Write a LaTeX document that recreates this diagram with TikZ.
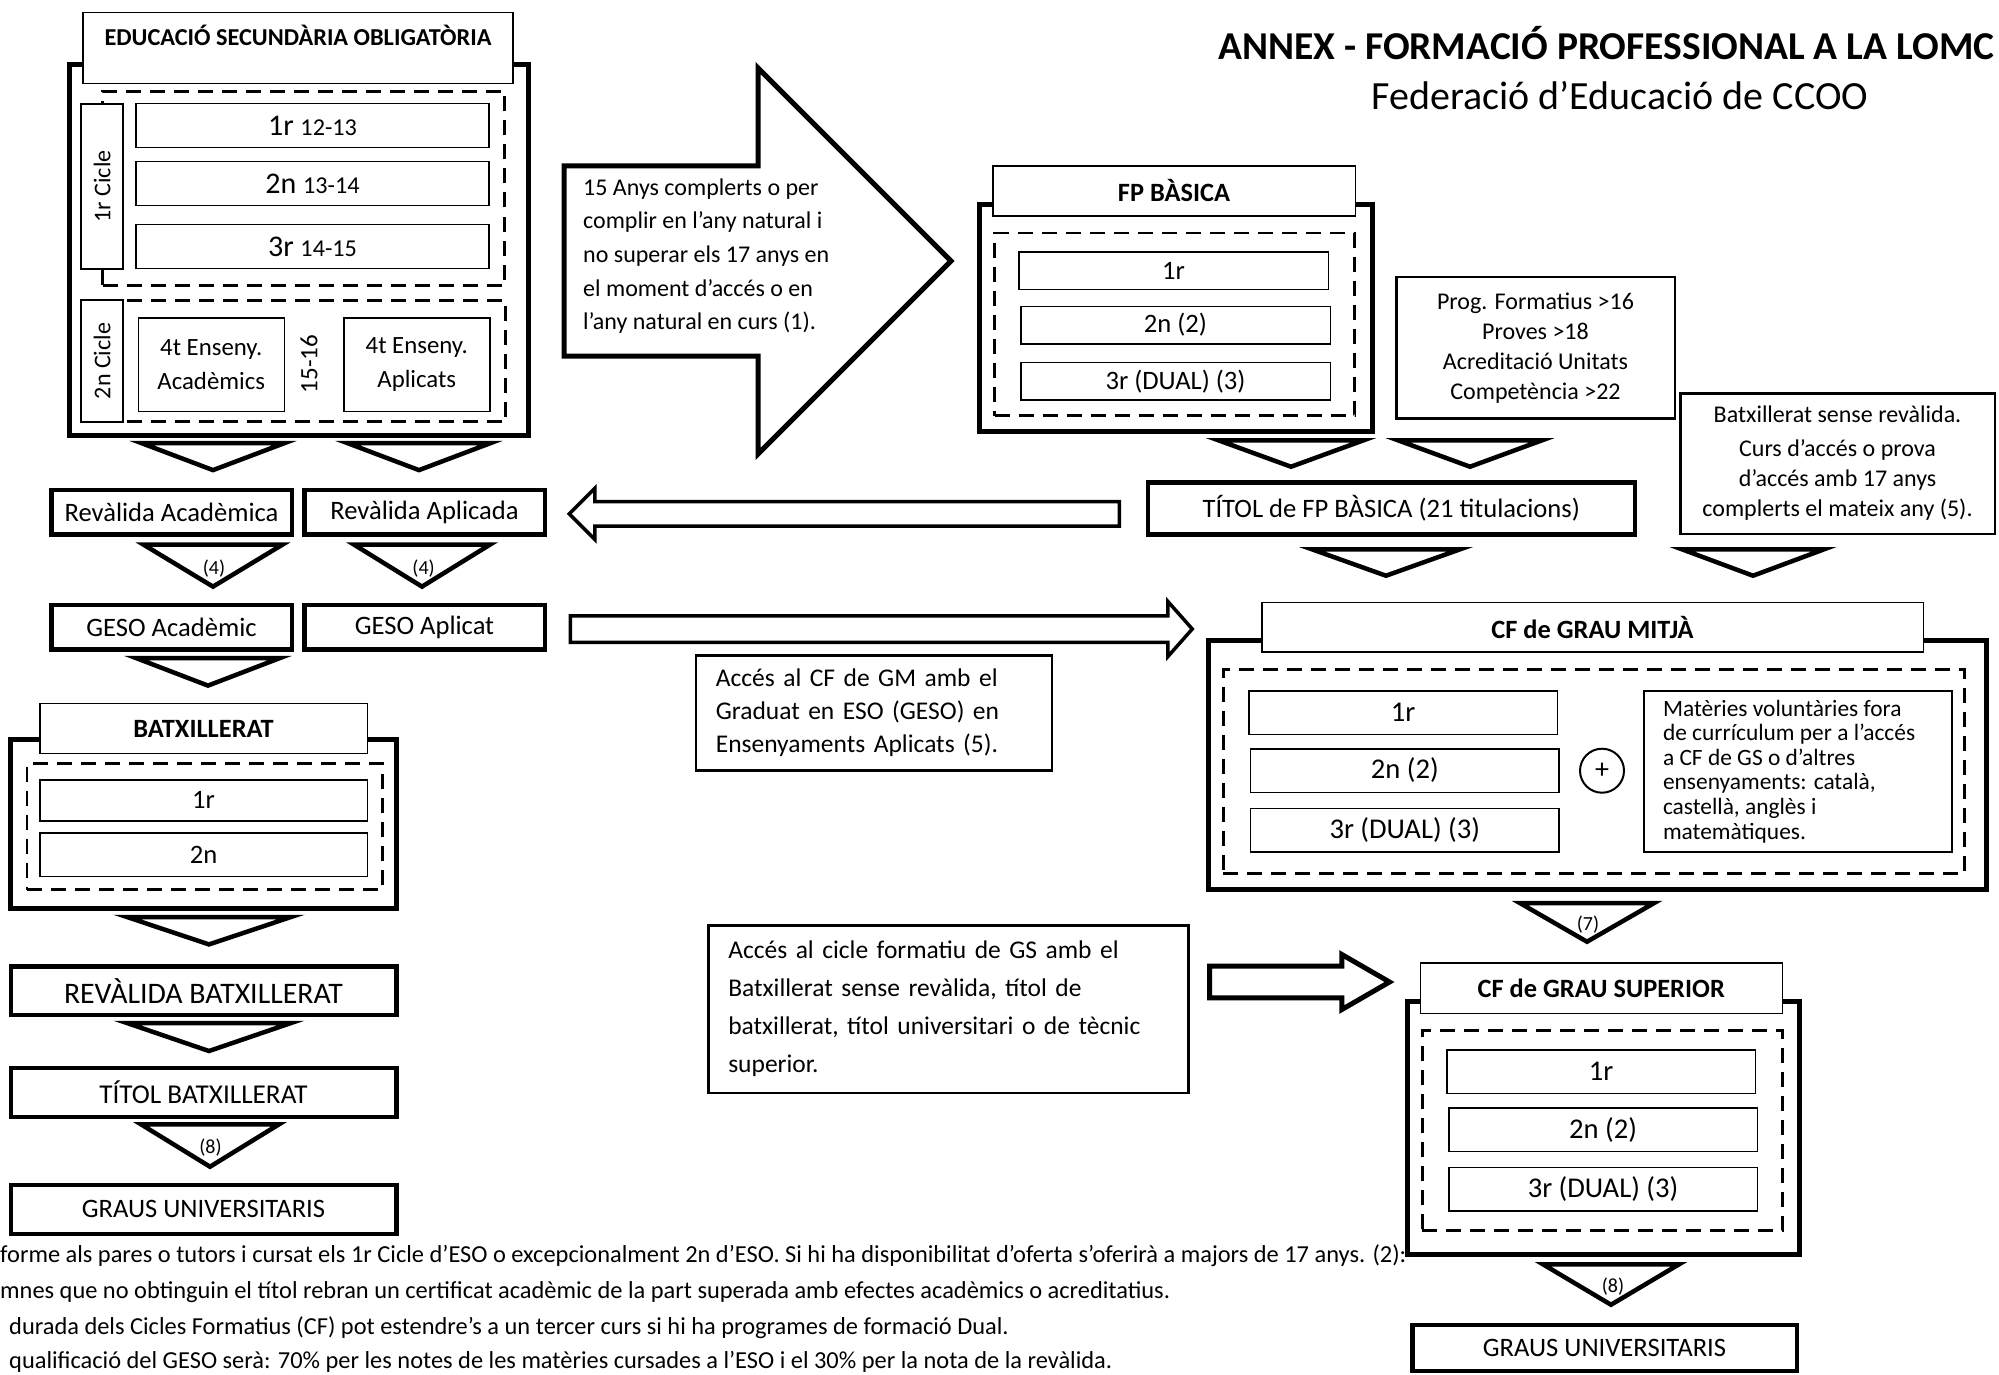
\documentclass[tikz,border=0pt]{standalone}
\usepackage{fontspec}
\setmainfont{Carlito}
\usepackage{tikz}
\usetikzlibrary{positioning,shapes.geometric,shapes.arrows}
\tikzset{
  outerBox/.style={
    rectangle,
    draw=black,
    line width=5pt,
    inner sep=0pt
  },
  dashBox/.style={
    rectangle,
    draw=black,
    line width=2.8pt,
    dash pattern=on 15pt off 9pt,
    inner sep=0pt
  },
  headBox/.style={
    rectangle,
    draw=black,
    fill=white,
    line width=1.5pt,
    inner sep=0pt,
    align=center,
    font=\bfseries\fontsize{26.4}{30}\selectfont
  },
  yearBox/.style={
    rectangle,
    draw=black,
    fill=white,
    line width=1.5pt,
    inner sep=0pt,
    align=center,
    font=\fontsize{26.6}{32}\selectfont
  },
  stepBox/.style={
    rectangle,
    draw=black,
    fill=white,
    line width=4.5pt,
    inner sep=0pt,
    minimum width=240.5pt,
    minimum height=44.5pt,
    align=center,
    font=\fontsize{26.6}{32}\selectfont
  },
  noteBox/.style={
    rectangle,
    draw=black,
    fill=white,
    line width=2.5pt,
    inner sep=0pt,
    align=center,
    font=\fontsize{24}{30}\selectfont
  },
  downTri/.style={
    isosceles triangle,
    isosceles triangle stretches,
    shape border rotate=-90,
    draw=black,
    fill=white,
    line width=4.5pt,
    inner sep=0pt,
    anchor=apex,
    minimum width=143pt,
    minimum height=27pt
  },
  triLabel/.style={
    inner sep=0pt,
    font=\fontsize{20}{22}\selectfont
  },
  blockArrow/.style={
    single arrow,
    draw=black,
    fill=white,
    line width=3.5pt,
    inner xsep=0pt,
    anchor=tail,
    single arrow tip angle=90
  },
  footNote/.style={
    anchor=base west,
    inner sep=0pt,
    font=\fontsize{24.4}{26}\selectfont
  }
}

\begin{document}
\begin{tikzpicture}[x=1pt,y=-1pt]
  \path[use as bounding box, fill=white] (0,0) rectangle (1999,1375);

  % ESO
  \node[outerBox, minimum width=459pt, minimum height=371pt] (esoOuter) at (299,249.7) {};
  \node[dashBox, minimum width=402pt, minimum height=194pt] (esoDashA) at (303.5,188.5) {};
  \node[dashBox, minimum width=403pt, minimum height=121pt] (esoDashB) at (304,361) {};
  \node[headBox, minimum width=430pt, text height=33pt, text depth=38pt, font=\bfseries\fontsize{24.3}{28}\selectfont] (esoHead) at (298,48) {EDUCACIÓ SECUNDÀRIA OBLIGATÒRIA};
  \node[yearBox, rotate=90, minimum width=165pt, minimum height=42pt, font=\fontsize{24}{28}\selectfont] (cicleA) at (102,186.4) {1r Cicle};
  \node[yearBox, rotate=90, minimum width=122pt, minimum height=42pt, font=\fontsize{24}{28}\selectfont] (cicleB) at (102,361) {2n Cicle};
  \node[yearBox, minimum width=353pt, minimum height=44pt, font=\fontsize{30}{32}\selectfont] (esoA) at (312.5,125.5) {1r {\fontsize{24.2}{26}\selectfont 12-13}};
  \node[yearBox, minimum width=353pt, minimum height=44pt, font=\fontsize{30}{32}\selectfont, below=12.7pt of esoA] (esoB) {2n {\fontsize{24.2}{26}\selectfont 13-14}};
  \node[yearBox, minimum width=353pt, minimum height=44pt, font=\fontsize{30}{32}\selectfont, below=17.3pt of esoB] (esoC) {3r {\fontsize{24.2}{26}\selectfont 14-15}};
  \node[yearBox, minimum width=146pt, minimum height=93.5pt, font=\fontsize{24.8}{34}\selectfont] (esoAc) at (211.25,364.5) {4t Enseny.\\Acadèmics};
  \node[yearBox, minimum width=146pt, minimum height=93.5pt, font=\fontsize{24.8}{34}\selectfont, right=58pt of esoAc] (esoAp) {4t Enseny.\\Aplicats};
  \node[rotate=90, inner sep=0pt, font=\fontsize{25}{30}\selectfont] (edat) at (309,364) {15-16};

  \node[downTri] (triEsoA) at (213,476) {};
  \node[downTri] (triEsoB) at (419,476) {};

  % left column
  \node[stepBox] (revAc) at (171.5,512.2) {Revàlida Acadèmica};
  \node[stepBox, right=8pt of revAc] (revAp) {Revàlida Aplicada};
  \node[downTri, minimum width=139pt, minimum height=42pt] (triRevAc) at (213,592.5) {};
  \node[downTri, minimum width=136pt, minimum height=42pt] (triRevAp) at (422,592.5) {};
  \node[triLabel] at (214,568.3) {(4)};
  \node[triLabel] at (423.6,568.3) {(4)};
  \node[stepBox] (gesoAc) at (171.5,627) {GESO Acadèmic};
  \node[stepBox, right=8pt of gesoAc] (gesoAp) {GESO Aplicat};
  \node[downTri, minimum width=144pt, minimum height=27.6pt] (triGeso) at (208,691.5) {};

  \node[outerBox, minimum width=385.6pt, minimum height=169pt] (batxOuter) at (203.7,823.7) {};
  \node[dashBox, minimum width=355.6pt, minimum height=126pt] (batxDash) at (204.8,826.7) {};
  \node[yearBox, minimum width=327.5pt, minimum height=41pt] (batxA) at (203.5,800.3) {1r};
  \node[yearBox, minimum width=327.5pt, minimum height=43.5pt, below=10.6pt of batxA] (batxB) {2n};
  \node[headBox, minimum width=327.5pt, minimum height=50pt] (batxHead) at (203.5,728.5) {BATXILLERAT};

  \node[downTri, minimum width=164pt, minimum height=27.4pt] (triBatx) at (209,950.3) {};
  \node[stepBox, minimum width=385.5pt, minimum height=48.8pt, font=\fontsize{29.8}{34}\selectfont] (revBatx) at (203.5,990.7) {REVÀLIDA BATXILLERAT};
  \node[downTri, minimum width=164pt, minimum height=28pt] (triRevBatx) at (209,1056.9) {};
  \node[stepBox, minimum width=385.5pt, minimum height=48.8pt, font=\fontsize{27.2}{32}\selectfont] (titolBatx) at (203.5,1092.4) {TÍTOL BATXILLERAT};
  \node[downTri, minimum width=138pt, minimum height=42.4pt] (triTitolBatx) at (210,1172.6) {};
  \node[triLabel] at (210.5,1148) {(8)};
  \node[stepBox, minimum width=385.5pt, minimum height=48.8pt] (grausBatx) at (203.5,1209.4) {GRAUS UNIVERSITARIS};

  % FP basica
  \node[outerBox, minimum width=393.9pt, minimum height=227.3pt] (fpOuter) at (1176,317.9) {};
  \node[dashBox, minimum width=360pt, minimum height=182.5pt] (fpDash) at (1174.5,324.3) {};
  \node[yearBox, minimum width=309.5pt, minimum height=37.5pt] (fpA) at (1173.5,270.5) {1r};
  \node[yearBox, minimum width=309.5pt, minimum height=37.5pt] (fpB) at (1175.5,325) {2n (2)};
  \node[yearBox, minimum width=309.5pt, minimum height=37.5pt] (fpC) at (1175.5,381.3) {3r (DUAL) (3)};
  \node[headBox, minimum width=362.5pt, minimum height=50.2pt] (fpHead) at (1174,190.9) {FP BÀSICA};
  \node[noteBox, minimum width=278.5pt, minimum height=141.8pt] (progFP) at (1535.5,347.8) {Prog. Formatius >16\\Proves >18\\Acreditació Unitats\\Competència >22};
  \node[noteBox, minimum width=314.5pt, minimum height=140.5pt] (batxNote) at (1837.5,463.5) {Batxillerat sense revàlida.\\[4pt]Curs d’accés o prova\\d’accés amb 17 anys\\complerts el mateix any (5).};

  \node[downTri, minimum width=145pt, minimum height=26.4pt] (triFpA) at (1291,472.6) {};
  \node[downTri, minimum width=144pt, minimum height=26.4pt] (triFpB) at (1470,472.6) {};
  \node[stepBox, minimum width=487pt, minimum height=52.2pt] (titolFP) at (1391.25,508.35) {TÍTOL de FP BÀSICA (21 titulacions)};
  \node[downTri, minimum width=148pt, minimum height=26.4pt] (triTitolFP) at (1386,581.6) {};
  \node[downTri, minimum width=142pt, minimum height=26.4pt] (triBatxNote) at (1753,581.6) {};

  % CF grau mitja
  \node[outerBox, minimum width=777.6pt, minimum height=248.7pt] (gmOuter) at (1597.3,764.85) {};
  \node[dashBox, minimum width=741.2pt, minimum height=204.2pt] (gmDash) at (1594,771.5) {};
  \node[yearBox, minimum width=308.5pt, minimum height=43.5pt, font=\fontsize{28.6}{32}\selectfont] (gmA) at (1403,712.5) {1r};
  \node[yearBox, minimum width=308.5pt, minimum height=43.5pt, font=\fontsize{28.6}{32}\selectfont] (gmB) at (1404.75,770.5) {2n (2)};
  \node[yearBox, minimum width=308.5pt, minimum height=43.5pt, font=\fontsize{28.6}{32}\selectfont] (gmC) at (1404.75,830.2) {3r (DUAL) (3)};
  \node[circle, draw=black, line width=2pt, minimum size=44pt, inner sep=0pt, font=\fontsize{28}{30}\selectfont] (gmPlus) at (1602,770.7) {+};
  \node[yearBox, line width=2pt, minimum width=308.5pt, minimum height=161.2pt, inner xsep=19.25pt, text width=270pt, align=flush left, font=\fontsize{23.4}{24.6}\selectfont] (gmMat) at (1798,771.35) {Matèries voluntàries fora\\de currículum per a l’accés\\a CF de GS o d’altres\\ensenyaments: català,\\castellà, anglès i\\matemàtiques.};
  \node[headBox, minimum width=661.5pt, minimum height=49.5pt] (gmHead) at (1592.5,627.2) {CF de GRAU MITJÀ};

  \node[downTri, minimum width=134pt, minimum height=38.6pt] (triGs) at (1587,947.6) {};
  \node[triLabel] at (1588,925) {(7)};

  % CF grau superior
  \node[outerBox, minimum width=392.5pt, minimum height=252.7pt] (gsOuter) at (1603.25,1127.85) {};
  \node[dashBox, minimum width=360.2pt, minimum height=199.9pt] (gsDash) at (1602.5,1130.35) {};
  \node[yearBox, minimum width=308.5pt, minimum height=43.5pt, font=\fontsize{28.6}{32}\selectfont] (gsA) at (1601,1071.5) {1r};
  \node[yearBox, minimum width=308.5pt, minimum height=43.5pt, font=\fontsize{28.6}{32}\selectfont] (gsB) at (1603,1129.85) {2n (2)};
  \node[yearBox, minimum width=308.5pt, minimum height=43.5pt, font=\fontsize{28.6}{32}\selectfont] (gsC) at (1603,1189.2) {3r (DUAL) (3)};
  \node[headBox, minimum width=362pt, minimum height=50.5pt] (gsHead) at (1601.25,988) {CF de GRAU SUPERIOR};
  \node[downTri, minimum width=136pt, minimum height=40.4pt] (triGsUni) at (1611,1310.6) {};
  \node[triLabel] at (1613,1286.7) {(8)};
  \node[stepBox, minimum width=384.5pt, minimum height=45.8pt] (grausGs) at (1604.5,1347.85) {GRAUS UNIVERSITARIS};

  % access notes
  \node[noteBox, minimum width=356pt, minimum height=115.2pt, inner xsep=20pt, text width=316pt, align=left, font=\fontsize{25.5}{33}\selectfont] (accesGM) at (873.8,712.85) {Accés al CF de GM amb el\\Graduat en ESO (GESO) en\\Ensenyaments Aplicats (5).};
  \node[noteBox, minimum width=480pt, minimum height=167.5pt, inner xsep=20pt, text width=440pt, align=left, font=\fontsize{25.5}{38}\selectfont] (accesGS) at (948.25,1009) {Accés al cicle formatiu de GS amb el\\Batxillerat sense revàlida, títol de\\batxillerat, títol universitari o de tècnic\\superior.};

  % block arrows
  \node[blockArrow, line width=5pt, minimum height=387pt, inner ysep=92.5pt, single arrow head extend=98pt] (arrFP) at (561.5,261) {};
  \node[anchor=west, inner sep=0pt, align=left, font=\fontsize{24}{33.7}\selectfont] (arrFPtext) at (583,256) {15 Anys complerts o per\\complir en l’any natural i\\no superar els 17 anys en\\el moment d’accés o en\\l’any natural en curs (1).};
  \node[blockArrow, shape border rotate=180, minimum height=550pt, inner ysep=10.6pt, single arrow head extend=13.15pt] (arrRev) at ([xshift=-24.5pt,yshift=-5.5pt]titolFP.west) {};
  \node[blockArrow, minimum height=622pt, inner ysep=11.5pt, single arrow head extend=14.25pt, single arrow tip angle=97] (arrGM) at ([xshift=21.5pt,yshift=-2pt]gesoAp.east) {};
  \node[blockArrow, line width=5pt, minimum height=180pt, inner ysep=13.35pt, single arrow head extend=11.65pt, single arrow tip angle=60] (arrGS) at ([xshift=17.5pt,yshift=27pt]accesGS.east) {};

  % titles
  \node[anchor=west, inner sep=0pt, font=\bfseries\fontsize{39.5}{42}\selectfont] (title) at (1218,43) {ANNEX - FORMACIÓ PROFESSIONAL A LA LOMC};
  \node[inner sep=0pt, font=\fontsize{40}{44}\selectfont] (subtitle) at (1620,96) {Federació d’Educació de CCOO};

  % footnotes
  \node[footNote] (noteA) at (0,1262.5) {forme als pares o tutors i cursat els 1r Cicle d’ESO o excepcionalment 2n d’ESO. Si hi ha disponibilitat d’oferta s’oferirà a majors de 17 anys. (2):};
  \node[footNote] (noteB) at (0,1298.7) {mnes que no obtinguin el títol rebran un certificat acadèmic de la part superada amb efectes acadèmics o acreditatius.};
  \node[footNote] (noteC) at (9,1334) {durada dels Cicles Formatius (CF) pot estendre’s a un tercer curs si hi ha programes de formació Dual.};
  \node[footNote] (noteD) at (9,1368.5) {qualificació del GESO serà: 70\% per les notes de les matèries cursades a l’ESO i el 30\% per la nota de la revàlida.};
\end{tikzpicture}
\end{document}
